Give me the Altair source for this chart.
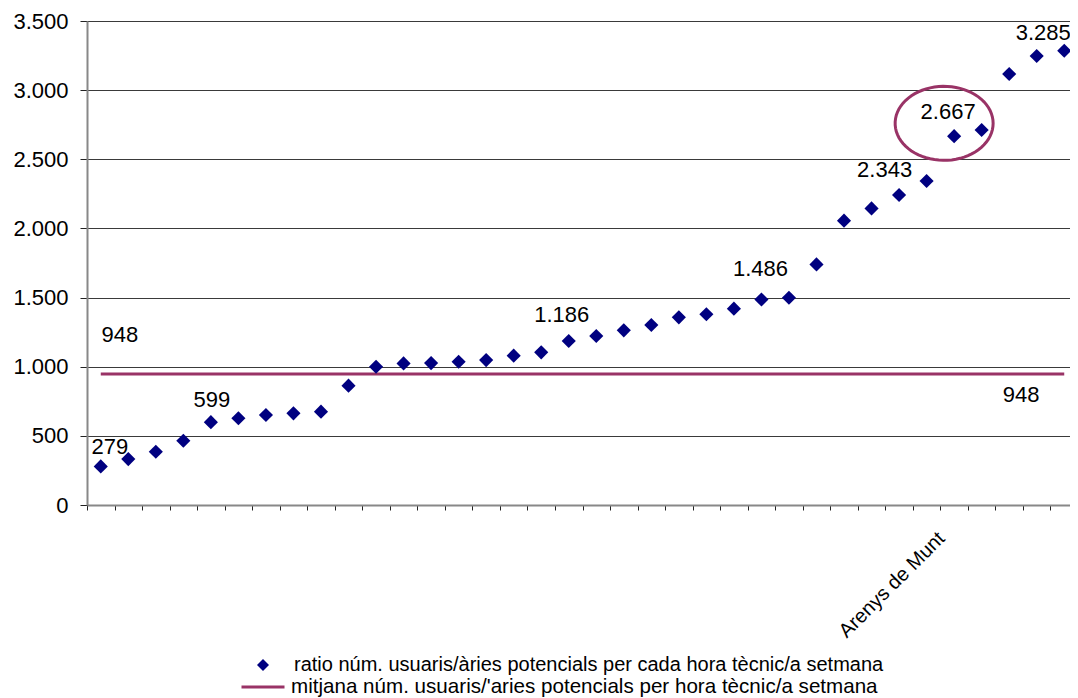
import altair as alt
import pandas as pd
import numpy as np

# ---------------- data ----------------
cats = [f"m{i:02d}" for i in range(1, 37)]
ratio = [279, 332, 385, 465, 599, 627, 651, 663, 675, 863,
         1000, 1024, 1026, 1036, 1048, 1080, 1104, 1186, 1222, 1263,
         1302, 1357, 1379, 1420, 1486, 1499, 1740, 2056, 2145, 2242,
         2343, 2667, 2712, 3117, 3247, 3285]
mean_value = 948
highlight_cat = "m32"
highlight_name = "Arenys de Munt"
ellipse_value = 2760
series_ratio = "ratio núm. usuaris/àries potencials per cada hora tècnic/a setmana"
series_mean = "mitjana núm. usuaris/'aries potencials per hora tècnic/a setmana"
y_ticks = [0, 500, 1000, 1500, 2000, 2500, 3000, 3500]

NAVY = "#000080"
PLUM = "#993366"
FONT = "Liberation Sans"

df = pd.DataFrame({"cat": cats, "idx": list(range(len(cats))), "ratio": ratio,
                   "mean": [mean_value] * len(cats)})

W, H = 991, 484

xenc = alt.X("cat:N", sort=cats,
             scale=alt.Scale(type="band", paddingInner=0, paddingOuter=0),
             axis=alt.Axis(title=None, tickBand="extent",
                           labelExpr=f"datum.value == '{highlight_cat}' ? '{highlight_name}' : ''",
                           labelAngle=-45, labelAlign="right", labelBaseline="middle",
                           labelFontSize=20, labelFont=FONT, labelColor="#000",
                           labelPadding=25, labelOffset=-13, labelOverlap=False,
                           tickSize=5, tickColor="#222", tickWidth=1,
                           domainColor="#888", domainWidth=2, grid=False))

yscale = alt.Scale(domain=[0, 3500], nice=False)
yaxis = alt.Axis(title=None, values=y_ticks,
                 labelExpr="replace(format(datum.value, ',d'), ',', '.')",
                 labelFontSize=22, labelFont=FONT, labelColor="#000", labelPadding=12,
                 tickSize=7, tickColor="#222", domainColor="#888", domainWidth=2,
                 grid=True, gridColor="#3a3a3a", gridWidth=1)

base = alt.Chart(df)

mean_line = base.mark_line(color=PLUM, strokeWidth=3).encode(
    x=xenc, y=alt.Y("mean:Q", scale=yscale, axis=yaxis))

# annotation ellipse around highlighted point
t = np.linspace(0, 2 * np.pi, 72)
ex = -0.204 + np.cos(t)
ey = 0.755 * np.sin(t)
path = "M" + " L".join(f"{a:.3f},{b:.3f}" for a, b in zip(ex, ey)) + " Z"
ell_df = pd.DataFrame({"cat": [highlight_cat], "v": [ellipse_value]})
ellipse = alt.Chart(ell_df).mark_point(shape=path, size=98 * 98, filled=False,
                                       stroke=PLUM, strokeWidth=3, opacity=1).encode(
    x=alt.X("cat:N", sort=cats), y=alt.Y("v:Q", scale=yscale))

points = base.mark_point(shape="diamond", filled=True, size=200, color=NAVY, opacity=1).encode(
    x=alt.X("cat:N", sort=cats), y=alt.Y("ratio:Q", scale=yscale))

# data labels (offsets are style)
label_specs = [(0, 9, -19), (4, 1, -22), (17, -7, -26), (24, -1, -31),
               (30, -42, -11), (31, -6, -24), (35, -21, -18)]
text_layers = []
for i, dx, dy in label_specs:
    text_layers.append(
        base.transform_filter(f"datum.idx == {i}")
        .transform_calculate(lab="replace(format(datum.ratio, ',d'), ',', '.')")
        .mark_text(fontSize=22, font=FONT, color="#000", dx=dx, dy=dy)
        .encode(x=alt.X("cat:N", sort=cats), y=alt.Y("ratio:Q", scale=yscale), text="lab:N"))

mean_label_specs = [(0, 19, -39), (33, 12, 21)]
for i, dx, dy in mean_label_specs:
    text_layers.append(
        base.transform_filter(f"datum.idx == {i}")
        .transform_calculate(lab="replace(format(datum.mean, ',d'), ',', '.')")
        .mark_text(fontSize=22, font=FONT, color="#000", dx=dx, dy=dy)
        .encode(x=alt.X("cat:N", sort=cats), y=alt.Y("mean:Q", scale=yscale), text="lab:N"))

# legends (no marks drawn, legend only)
leg_a = alt.Legend(title=None, orient="none", legendX=166, legendY=634,
                   labelFontSize=20, labelFont=FONT, labelColor="#000", labelLimit=0,
                   symbolType="diamond", symbolSize=144, symbolStrokeWidth=0,
                   labelOffset=21, padding=0)
legend_a = base.transform_filter("false").transform_calculate(s1="'x'").mark_point(
    filled=True, opacity=1).encode(
    color=alt.Color("s1:N", scale=alt.Scale(domain=[series_ratio], range=[NAVY]), legend=leg_a))

leg_b = alt.Legend(title=None, orient="none", legendX=153, legendY=643,
                   labelFontSize=20.6, labelFont=FONT, labelColor="#000", labelLimit=0,
                   symbolType="stroke", symbolSize=1849, symbolStrokeWidth=3,
                   labelOffset=5, padding=0)
legend_b = base.transform_filter("false").transform_calculate(s2="'x'").mark_line(
    strokeWidth=3).encode(
    x=alt.X("cat:N", sort=cats), y=alt.Y("mean:Q", scale=yscale),
    stroke=alt.Stroke("s2:N", scale=alt.Scale(domain=[series_mean], range=[PLUM]), legend=leg_b))

chart = alt.layer(mean_line, ellipse, points, *text_layers, legend_a, legend_b).properties(
    width=W, height=H,
    autosize=alt.AutoSizeParams(type="none"),
    padding={"left": 79, "top": 13, "right": -8, "bottom": 192},
).configure_view(fill="#e4e4e4", stroke=None).configure(font=FONT)

chart.save("out.html", embed_options={"renderer": "svg", "actions": False})
